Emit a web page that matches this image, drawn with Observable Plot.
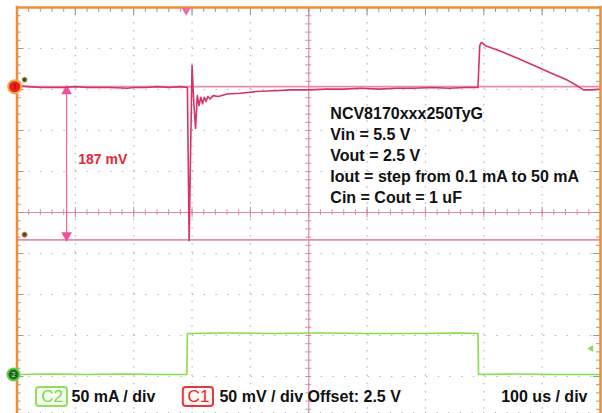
<!DOCTYPE html>
<html><head><meta charset="utf-8">
<script src="https://cdn.jsdelivr.net/npm/d3@7"></script>
<script src="https://cdn.jsdelivr.net/npm/@observablehq/plot@0.6"></script>
<style>body{margin:0;background:#fff;overflow:hidden}#chart svg{display:block}</style>
</head><body><div id="chart"></div>
<script>
// ---- data (time in µs, 100 µs/div; C1 in mV deviation, C2 in mA) ----
const c1Time = [4, 20, 40, 60, 80, 100, 120, 140, 160, 189, 200, 220, 240, 260, 280, 292,
  295, 297, 300, 303, 306, 309, 312, 315, 318, 321, 324, 327, 331, 336, 345, 360, 383, 410,
  440, 470, 500, 530, 560, 590, 620, 650, 680, 710, 740, 770, 790, 793, 796, 803, 829, 857,
  885, 914, 943, 960, 971, 985, 1000];
const c1Mv = [1, 0, -1, -1, -1, 0, -1, -1, -1, -2, -1, -1, 0, -1, 0, -1,
  -188, -100, 26, -20, -51, -11, -23, -13, -21, -13, -18, -12, -15, -11, -12, -9, -8, -6,
  -5, -4, -4, -3, -3, -2, -3, -2, -2, -1, -2, -1, -1, 50, 54, 50, 43, 35,
  26, 17, 8, 1, -4, -4, -3];
const c2Time = [6, 60, 120, 180, 240, 291, 292, 360, 440, 520, 600, 680, 760, 790, 791, 850, 920, 1000];
const c2Ma = [0, 0.5, 0, 0.5, 0, 0, 50, 50.5, 50, 50.5, 50, 50, 50.5, 50, 0, 0.5, 0, 0];
const cursorMv = [0, -187];
const cursorLabel = "187 mV";
const infoLines = ["NCV8170xxx250TyG", "Vin = 5.5 V", "Vout = 2.5 V",
  "Iout = step from 0.1 mA to 50 mA", "Cin = Cout = 1 uF"];
const channelTags = ["C2", "C1"];
const channelScales = ["50 mA / div", "50 mV / div Offset: 2.5 V"];
const timeScale = "100 us / div";

// ---- layout helpers ----
const c1Zero = 3.07, c2Zero = -3.95, perDiv = 50;
const c1 = c1Time.map((t, i) => ({t, y: c1Zero + c1Mv[i] / perDiv}));
const c2 = c2Time.map((t, i) => ({t, y: c2Zero + c2Ma[i] / perDiv}));
const gridX = d3.range(100, 1000, 100).filter(v => v !== 500);
const gridY = d3.range(-4, 5).filter(v => v !== 0);
const minorX = d3.range(0, 1000.1, 20);
const minorY = d3.range(-5, 5.01, 0.2).map(v => +v.toFixed(2));
const orange = "#f08c35", pinkAxis = "#d98aa6", trace1 = "#d6336c", cursor = "#e58db0", green = "#86dd4e";
const font = "Liberation Sans, Arial, sans-serif";
const legY = -4.49;

const plot = Plot.plot({
  width: 602, height: 413, margin: 0,
  x: {domain: [0, 1000], range: [16.5, 600], axis: null},
  y: {domain: [-5, 5], range: [417, 7], axis: null},
  style: {background: "white", overflow: "visible"},
  marks: [
    // dotted grid
    Plot.ruleX(gridX, {y1: -5, y2: 5, stroke: "#b8b8b8", strokeDasharray: "1.5,6.7", strokeWidth: 1.2}),
    Plot.ruleY(gridY, {x1: 0, x2: 1000, stroke: "#b8b8b8", strokeDasharray: "1.5,10.2", strokeWidth: 1.2}),
    // center axes with ticks
    Plot.ruleX([500], {y1: -5, y2: 5, stroke: pinkAxis, strokeWidth: 1.2}),
    Plot.ruleY([0], {x1: 0, x2: 1000, stroke: pinkAxis, strokeWidth: 1.2}),
    Plot.ruleY(minorY, {x1: 495, x2: 505, stroke: pinkAxis}),
    Plot.ruleX(minorX, {y1: -0.07, y2: 0.07, stroke: pinkAxis}),
    Plot.ruleX(d3.range(0, 1001, 100), {y1: -0.13, y2: 0.13, stroke: pinkAxis}),
    // edge ticks
    Plot.ruleY(minorY, {x1: 0, x2: 7, stroke: "#999"}),
    Plot.ruleY(minorY, {x1: 993, x2: 1000, stroke: "#999"}),
    Plot.ruleY(d3.range(-5, 6), {x1: 0, x2: 12, stroke: "#999"}),
    Plot.ruleY(d3.range(-5, 6), {x1: 988, x2: 1000, stroke: "#999"}),
    Plot.ruleX(minorX, {y1: 4.88, y2: 5, stroke: "#999"}),
    Plot.ruleX(d3.range(0, 1001, 100), {y1: 4.8, y2: 5, stroke: "#999"}),
    Plot.ruleX(minorX, {y1: -5, y2: -4.88, stroke: "#999"}),
    // cursors
    Plot.ruleY(cursorMv, {y: d => c1Zero + d / perDiv, x1: 0, x2: 1000, stroke: cursor, strokeWidth: 1.8}),
    Plot.link([0], {x1: 85, x2: 85, y1: c1Zero - 0.12, y2: c1Zero + cursorMv[1] / perDiv + 0.12, stroke: "#f06aa5", strokeWidth: 1.3}),
    Plot.dot([0], {x: 85, y: c1Zero - 0.11, symbol: "triangle", r: 4, fill: "#f0509a", stroke: "none"}),
    Plot.dot([0], {x: 85, y: c1Zero + cursorMv[1] / perDiv + 0.11, symbol: "triangle", rotate: 180, r: 4, fill: "#f0509a", stroke: "none"}),
    Plot.text([cursorLabel], {x: 105, y: 1.29, text: d => d, textAnchor: "start", fill: "#e5263a", fontSize: 14, fontWeight: "bold", fontFamily: font}),
    // traces
    Plot.line(c1, {x: "t", y: "y", stroke: trace1, strokeWidth: 1.6, curve: "linear"}),
    Plot.line(c2, {x: "t", y: "y", stroke: green, strokeWidth: 1.6}),
    // frame
    Plot.ruleX([0], {y1: -5.2, y2: 5.03, stroke: orange, strokeWidth: 2.5}),
    Plot.ruleX([1000], {y1: -5.2, y2: 5.03, stroke: orange, strokeWidth: 2.5}),
    Plot.ruleY([5], {x1: -1, x2: 1001, stroke: orange, strokeWidth: 2.5}),
    // markers
    Plot.dot([0], {x: -4, y: c1Zero, r: 6.5, fill: "#e8201c", stroke: "#f9a64a", strokeWidth: 2}),
    Plot.text(["1"], {x: -4, y: c1Zero, text: d => d, fontSize: 7, fill: "#5a1010"}),
    Plot.dot([0], {x: 13, y: c1Zero + 0.17, r: 2.6, fill: "#4a4a20", stroke: "#d8c070", strokeWidth: 1}),
    Plot.dot([0], {x: 13, y: -0.54, r: 2.6, fill: "#5a4a20", stroke: "#c8a060", strokeWidth: 1}),
    Plot.dot([0], {x: -6, y: c2Zero, r: 6, fill: "#1e6a1e", stroke: "#5fd045", strokeWidth: 2}),
    Plot.text(["2"], {x: -6, y: c2Zero, text: d => d, fontSize: 7, fill: "#c8f0b0"}),
    Plot.dot([0], {x: 290, y: 4.93, symbol: "triangle", rotate: 180, r: 3.5, fill: "#f06aa5", stroke: "none"}),
    Plot.dot([0], {x: 984, y: -3.32, symbol: "triangle", rotate: -90, r: 2.5, fill: green, stroke: "none"}),
    // info block
    Plot.text(infoLines, {x: 537, y: (d, i) => 2.41 - i * 0.512, text: d => d, textAnchor: "start", fill: "#111", fontSize: 16, fontWeight: "bold", fontFamily: font}),
    // bottom channel labels
    Plot.rect([0], {x1: 33.4, x2: 86.5, y1: -4.27, y2: -4.73, fill: "#f4fdee", stroke: "#8ee05c", strokeWidth: 2, rx: 3}),
    Plot.rect([0], {x1: 285, x2: 336.8, y1: -4.27, y2: -4.73, fill: "#fff5f5", stroke: "#e03a3a", strokeWidth: 2, rx: 3}),
    Plot.text([channelTags[0]], {x: 60, y: legY, text: d => d, fill: "#7dd64e", fontSize: 17, fontFamily: font}),
    Plot.text([channelTags[1]], {x: 311, y: legY, text: d => d, fill: "#e02b2b", fontSize: 17, fontFamily: font}),
    Plot.text([channelScales[0]], {x: 93.4, y: legY, text: d => d, textAnchor: "start", fill: "#111", fontSize: 16, fontWeight: "bold", fontFamily: font}),
    Plot.text([channelScales[1]], {x: 347, y: legY, text: d => d, textAnchor: "start", fill: "#111", fontSize: 16, fontWeight: "bold", fontFamily: font}),
    Plot.text([timeScale], {x: 977.7, y: legY, text: d => d, textAnchor: "end", fill: "#111", fontSize: 16, fontWeight: "bold", fontFamily: font})
  ]
});
document.getElementById("chart").append(plot);
</script>
</body></html>
